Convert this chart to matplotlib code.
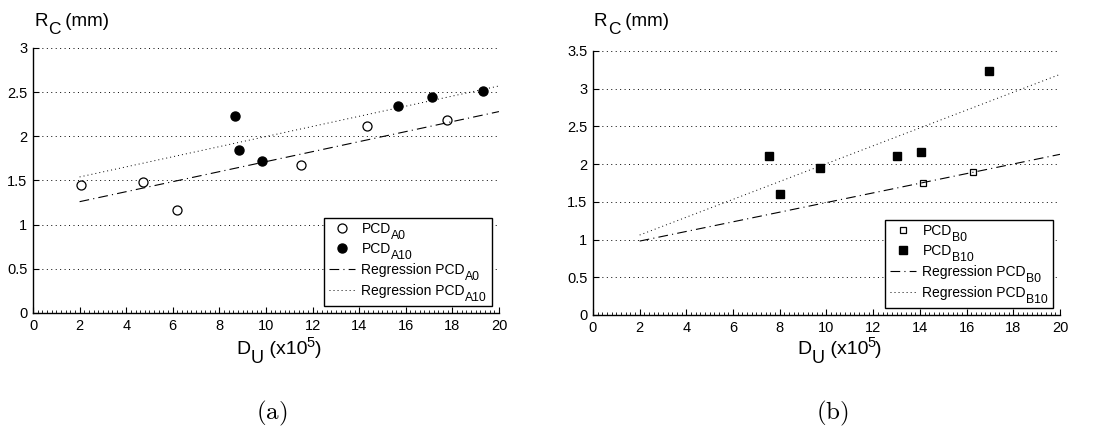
import numpy as np
import matplotlib
matplotlib.use('Agg')
import matplotlib.pyplot as plt
from matplotlib.ticker import MultipleLocator, FormatStrFormatter
from matplotlib.font_manager import FontProperties
from matplotlib.offsetbox import DrawingArea, HPacker, AnnotationBbox
from matplotlib.text import Text

FONT = 'Liberation Sans'
plt.rcParams['font.family'] = [FONT, 'DejaVu Sans']
plt.rcParams['lines.scale_dashes'] = False

# (a) data
a0_x = [2.07, 4.72, 6.2, 11.5, 14.32, 17.76]
a0_y = [1.45, 1.48, 1.17, 1.67, 2.12, 2.18]
a10_x = [8.65, 8.86, 9.82, 15.68, 17.14, 19.33]
a10_y = [2.23, 1.84, 1.72, 2.34, 2.45, 2.51]
reg_a_x = [2, 20]
reg_a0_y = [1.26, 2.28]
reg_a10_y = [1.54, 2.57]

# (b) data
b0_x = [14.12, 16.26]
b0_y = [1.75, 1.89]
b10_x = [7.53, 8.02, 9.73, 13.01, 14.04, 16.98]
b10_y = [2.11, 1.61, 1.955, 2.105, 2.16, 3.23]
reg_b_x = [2, 20]
reg_b0_y = [0.98, 2.13]
reg_b10_y = [1.06, 3.19]

labels_a = [('PCD', 'A0'), ('PCD', 'A10'),
            ('Regression PCD', 'A0'), ('Regression PCD', 'A10')]
labels_b = [('PCD', 'B0'), ('PCD', 'B10'),
            ('Regression PCD', 'B0'), ('Regression PCD', 'B10')]

DASHDOT = (0, (7, 3, 0.8, 3))
DOTTED = (0, (0.7, 2.2))

fig = plt.figure(figsize=(10.93, 4.37), dpi=100)
renderer = fig.canvas.get_renderer()


def rich_box(parts):
    # parts: (text, size_pt, baseline shift pt, extra gap pt) -> MATLAB-like sub/superscripts
    kids = []
    for s, size, dy, gap in parts:
        prop = FontProperties(family=FONT, size=size)
        w, h, d = renderer.get_text_width_height_descent(s, prop, ismath=False)
        k = 72.0 / fig.dpi
        w, h, d = w * k, h * k, d * k
        da = DrawingArea(max(w + gap, 0.1), h, 0, d - dy)
        da.add_artist(Text(0, dy, s, fontproperties=prop, va='baseline', ha='left'))
        kids.append(da)
    box = HPacker(children=kids, pad=0, sep=0, align='baseline')
    box.set_figure(fig)
    return box


def style_axes(ax, ymax):
    ax.set_xlim(0, 20)
    ax.set_ylim(0, ymax)
    ax.xaxis.set_major_locator(MultipleLocator(2))
    ax.xaxis.set_minor_locator(MultipleLocator(0.2))
    ax.yaxis.set_major_locator(MultipleLocator(0.5))
    ax.yaxis.set_major_formatter(FormatStrFormatter('%g'))
    ax.tick_params(direction='in', labelsize=10.5, pad=4, length=4, width=0.8)
    ax.tick_params(which='minor', direction='in', length=2, width=0.6)
    for s in ['top', 'right']:
        ax.spines[s].set_visible(False)
    for s in ['left', 'bottom']:
        ax.spines[s].set_linewidth(1.0)
    ax.yaxis.grid(True, linestyle=(0, (0.7, 2.5)), color='black', linewidth=0.7)
    ax.set_axisbelow(True)


ax1 = fig.add_axes([0.0302, 0.2838, 0.4263, 0.6064])
ax2 = fig.add_axes([0.5425, 0.2792, 0.4273, 0.6041])

# (a)
style_axes(ax1, 3)
ax1.plot(a0_x, a0_y, 'o', mfc='white', mec='black', ms=6.5, mew=0.9, label='a0')
ax1.plot(a10_x, a10_y, 'o', mfc='black', mec='black', ms=6.5, label='a10')
ax1.plot(reg_a_x, reg_a0_y, color='black', lw=0.8, linestyle=DASHDOT, label='ra0')
ax1.plot(reg_a_x, reg_a10_y, color='black', lw=0.7, linestyle=DOTTED, label='ra10')

# (b)
style_axes(ax2, 3.5)
ax2.plot(b0_x, b0_y, 's', mfc='white', mec='black', ms=5, mew=0.9, label='b0')
ax2.plot(b10_x, b10_y, 's', mfc='black', mec='black', ms=6, label='b10')
ax2.plot(reg_b_x, reg_b0_y, color='black', lw=0.8, linestyle=DASHDOT, label='rb0')
ax2.plot(reg_b_x, reg_b10_y, color='black', lw=0.7, linestyle=DOTTED, label='rb10')

for ax, labs, cap in [(ax1, labels_a, '(a)'), (ax2, labels_b, '(b)')]:
    leg = ax.legend(loc='lower right', bbox_to_anchor=(0.985, 0.028),
                    borderaxespad=0, fontsize=10, fancybox=False,
                    edgecolor='black', framealpha=1, handlelength=1.9,
                    labelspacing=0.28, borderpad=0.35, handletextpad=0.45)
    leg.get_frame().set_linewidth(1.0)
    # swap plain labels for main text + lowered subscript
    rows = leg._legend_handle_box.get_children()[0].get_children()
    for row, (main, sub) in zip(rows, labs):
        row.get_children()[1] = rich_box([(main, 10, 0, 0.3), (sub, 8.8, -4.3, 0)])

    bb = ax.get_position()
    x0 = bb.x0 * fig.bbox.width
    xc = (bb.x0 + bb.x1) / 2 * fig.bbox.width
    ylab = rich_box([('R', 13.5, 0, 0.3), ('C', 12.5, -5.5, 0),
                     (' (mm)', 13.5, 0, 0)])
    ax.add_artist(AnnotationBbox(ylab, (x0 + 1, 424), xycoords='figure pixels',
                                 box_alignment=(0, 1), frameon=False, pad=0,
                                 annotation_clip=False))
    xlab = rich_box([('D', 14, 0, 0.3), ('U', 13, -6.5, 0), (' (x10', 14, 0, -0.6),
                     ('5', 10.5, 4.8, 0), (')', 14, 0, 0)])
    ax.add_artist(AnnotationBbox(xlab, (xc + 13, 100), xycoords='figure pixels',
                                 box_alignment=(0.5, 1), frameon=False, pad=0,
                                 annotation_clip=False))
    fig.text((xc + 6) / fig.bbox.width, 0.041, r'$\mathrm{' + cap + '}$',
             math_fontfamily='cm', fontsize=18, ha='center', va='baseline')

fig.savefig('out.png', dpi=100)
